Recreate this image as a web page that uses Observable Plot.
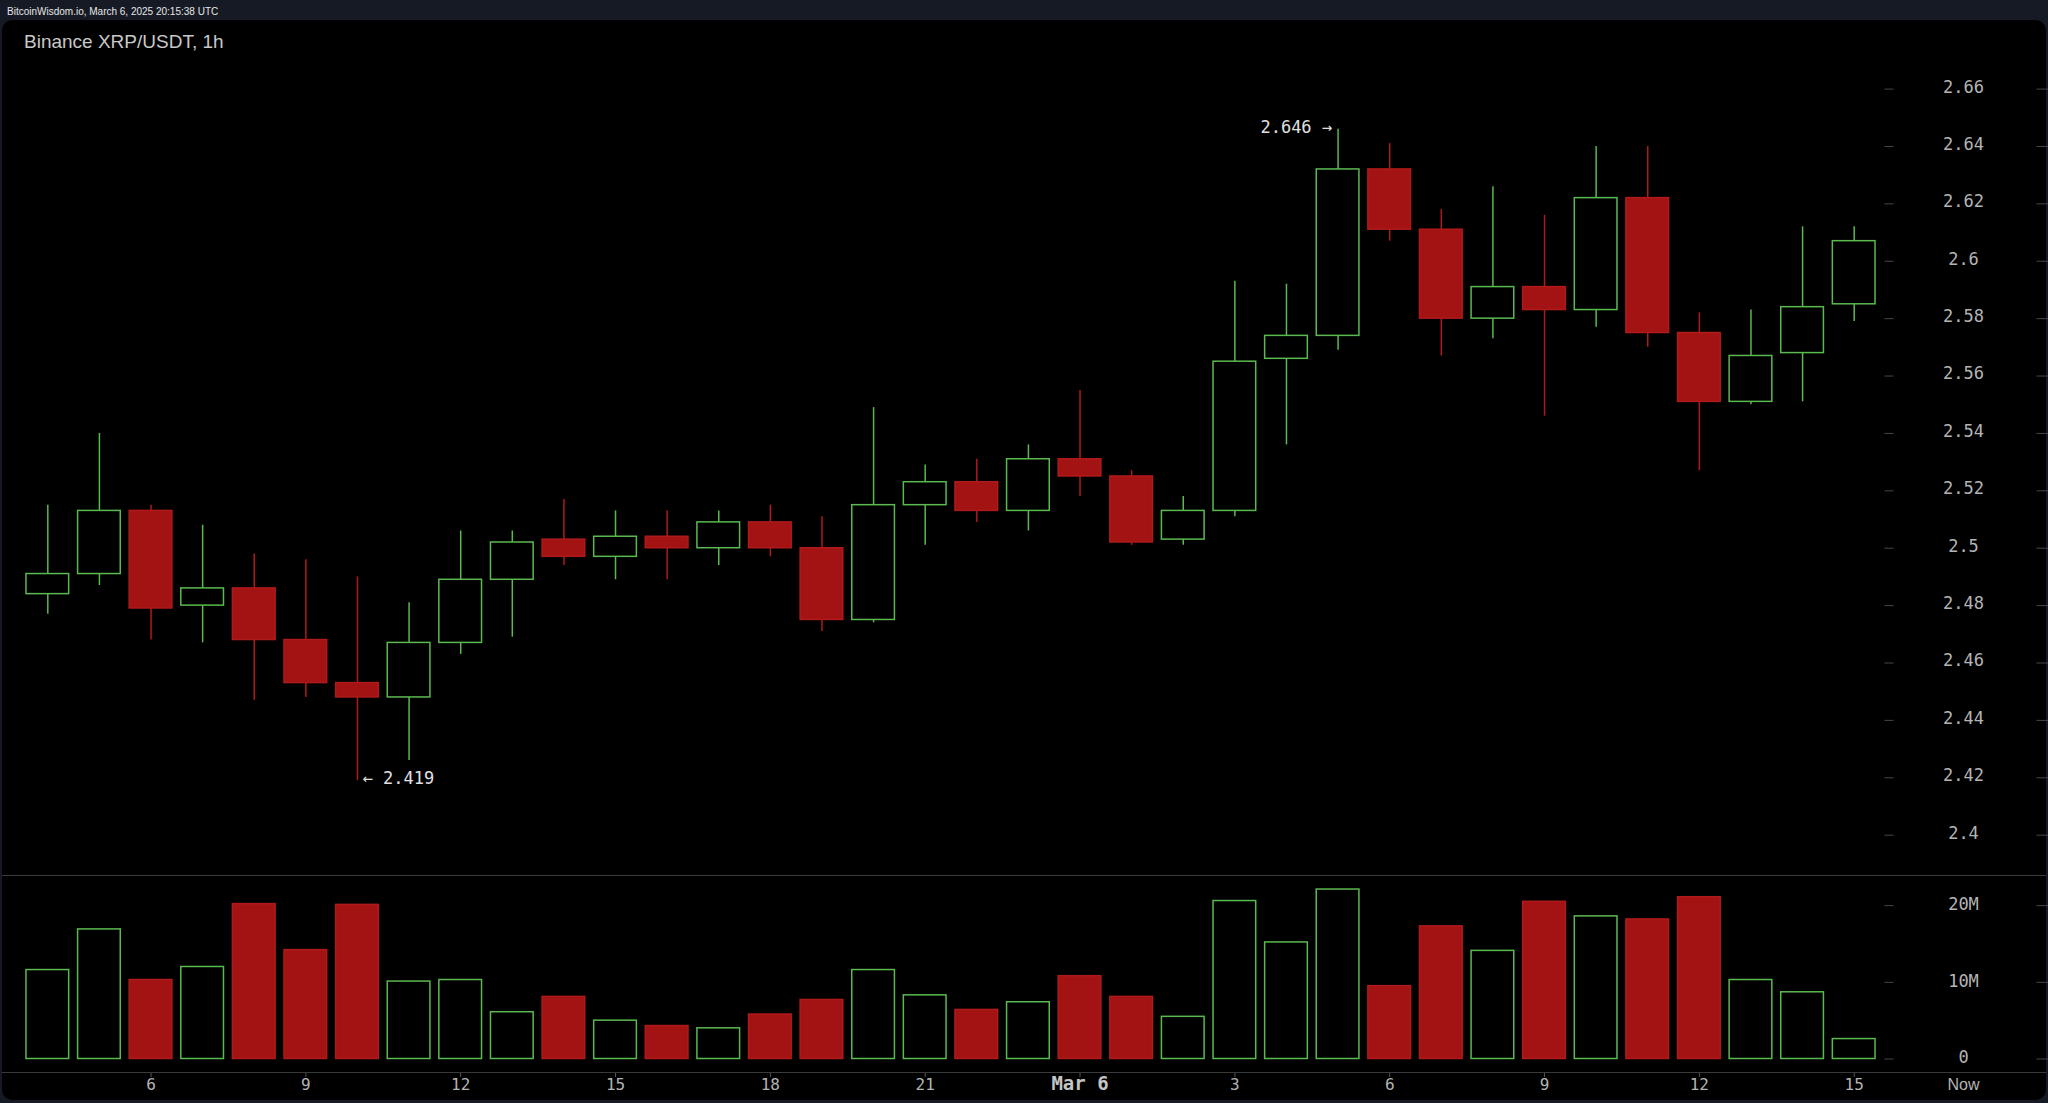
<!DOCTYPE html>
<html>
<head>
<meta charset="utf-8">
<script src="https://cdn.jsdelivr.net/npm/d3@7"></script>
<script src="https://cdn.jsdelivr.net/npm/@observablehq/plot@0.6"></script>
<style>
  html, body { margin: 0; padding: 0; }
  body { width: 2048px; height: 1103px; background: #161a24; position: relative; overflow: hidden; }
  #topbar { position: absolute; left: 7px; top: 5px; font: 10px "Liberation Sans", Arial, sans-serif; color: #e6e6e6; line-height: 13px; }
  #panel { position: absolute; left: 2px; top: 20px; width: 2044px; height: 1080px; background: #000; border-radius: 10px; }
  #title { position: absolute; left: 24px; top: 30.5px; font: 19px "Liberation Sans", Arial, sans-serif; color: #c8c8c8; line-height: 22px; z-index: 3; }
  #price { position: absolute; left: 0; top: 20px; z-index: 2; }
  #vol { position: absolute; left: 0; top: 876px; z-index: 2; }
  .sep { position: absolute; left: 2px; width: 2044px; height: 1px; background: #3a3a3a; z-index: 1; }
  svg { overflow: visible; }
</style>
</head>
<body>
<div id="topbar">BitcoinWisdom.io, March 6, 2025 20:15:38 UTC</div>
<div id="panel"></div>
<div id="title">Binance XRP/USDT, 1h</div>
<div class="sep" style="top:875px"></div>
<div class="sep" style="top:1072px"></div>
<div id="price"></div>
<div id="vol"></div>
<script>
// hour of day of each 1h candle (Mar 5 04:00 → Mar 6 15:00)
const hours = [4,5,6,7,8,9,10,11,12,13,14,15,16,17,18,19,20,21,22,23,0,1,2,3,4,5,6,7,8,9,10,11,12,13,14,15];
const open  = [2.484,2.491,2.513,2.480,2.486,2.468,2.453,2.448,2.467,2.489,2.503,2.497,2.504,2.500,2.509,2.500,2.475,2.515,2.523,2.513,2.531,2.525,2.503,2.513,2.566,2.574,2.632,2.611,2.580,2.591,2.583,2.622,2.575,2.551,2.568,2.585];
const high  = [2.515,2.540,2.515,2.508,2.498,2.496,2.490,2.481,2.506,2.506,2.517,2.513,2.513,2.513,2.515,2.511,2.549,2.529,2.531,2.536,2.555,2.527,2.518,2.593,2.592,2.646,2.641,2.618,2.626,2.616,2.640,2.640,2.582,2.583,2.612,2.612];
const low   = [2.477,2.487,2.468,2.467,2.447,2.448,2.419,2.426,2.463,2.469,2.494,2.489,2.489,2.494,2.497,2.471,2.474,2.501,2.509,2.506,2.518,2.501,2.501,2.511,2.536,2.569,2.607,2.567,2.573,2.546,2.577,2.570,2.527,2.550,2.551,2.579];
const close = [2.491,2.513,2.479,2.486,2.468,2.453,2.448,2.467,2.489,2.502,2.497,2.504,2.500,2.509,2.500,2.475,2.515,2.523,2.513,2.531,2.525,2.502,2.513,2.565,2.574,2.632,2.611,2.580,2.591,2.583,2.622,2.575,2.551,2.567,2.584,2.607];
// volume in millions
const volume = [11.6,16.9,10.3,12.0,20.2,14.2,20.1,10.1,10.3,6.1,8.1,5.0,4.3,4.0,5.8,7.7,11.6,8.3,6.4,7.4,10.8,8.1,5.5,20.6,15.2,22.1,9.5,17.3,14.1,20.5,18.6,18.2,21.1,10.3,8.7,2.6];

const priceTicks = [2.4,2.42,2.44,2.46,2.48,2.5,2.52,2.54,2.56,2.58,2.6,2.62,2.64,2.66];
const volTicks = [0,10,20];
const volTickLabels = ["0","10M","20M"];
const xTickIdx = [2,5,8,11,14,17,20,23,26,29,32,35];
const xTickLabels = ["6","9","12","15","18","21","Mar 6","3","6","9","12","15"];

const GREEN = "#5ab94f", RED = "#a31313", RED_LINE = "#b01a1a";
const MONO = "'DejaVu Sans Mono', monospace";
const AXIS_TXT = "#b4b4b4", DASH = "#474747";

const candles = hours.map((h, i) => ({i, hour: h, open: open[i], high: high[i], low: low[i], close: close[i], volume: volume[i], up: close[i] >= open[i]}));
const xDomain = candles.map(d => d.i);
const xScale = {type: "band", domain: xDomain, paddingInner: 0.173, paddingOuter: 0.0865, round: false, axis: null};
const common = {width: 2048, marginLeft: 21.5, marginRight: 168.5, style: {background: "transparent", overflow: "visible"}};

const iMax = d3.maxIndex(candles, d => d.high);
const iMin = d3.minIndex(candles, d => d.low);

const price = Plot.plot({
  ...common,
  height: 856, marginTop: 0, marginBottom: 0,
  x: xScale,
  y: {domain: [2.3856, 2.6839], axis: null, label: null},
  marks: [
    Plot.ruleX(candles, {x: "i", y1: "low", y2: "high", stroke: d => d.up ? GREEN : RED_LINE, strokeWidth: 1.5}),
    Plot.barY(candles, {x: "i", y1: "open", y2: "close", fill: d => d.up ? "#000" : RED, stroke: d => d.up ? GREEN : RED_LINE, strokeWidth: 1.5}),
    Plot.axisY(priceTicks, {anchor: "right", tickSize: 0, tickPadding: 0, dx: 83.5, dy: -2, textAnchor: "middle", fill: AXIS_TXT, fontSize: 17, fontFamily: MONO, label: null, tickFormat: d => String(+d.toFixed(2))}),
    Plot.axisY(priceTicks, {anchor: "right", tickSize: 9, dx: 4, stroke: DASH, fill: "none", label: null}),
    Plot.axisY(priceTicks, {anchor: "right", tickSize: 12, dx: 156, stroke: DASH, fill: "none", label: null}),
    Plot.text([candles[iMax]], {x: "i", y: "high", text: d => `${d.high.toFixed(3)} →`, textAnchor: "end", dx: -6, dy: -2, fill: "#e0e0e0", fontSize: 17, fontFamily: MONO}),
    Plot.text([candles[iMin]], {x: "i", y: "low", text: d => `← ${d.low.toFixed(3)}`, textAnchor: "start", dx: 5, dy: -2, fill: "#e0e0e0", fontSize: 17, fontFamily: MONO})
  ]
});
document.getElementById("price").append(price);

const xLabels = xTickIdx.map((i, k) => ({i, label: xTickLabels[k]}));
const vol = Plot.plot({
  ...common,
  height: 224, marginTop: 0, marginBottom: 41.5,
  x: xScale,
  y: {domain: [0, 23.8], axis: null, label: null},
  marks: [
    Plot.barY(candles, {x: "i", y: "volume", fill: d => d.up ? "#000" : RED, stroke: d => d.up ? GREEN : RED_LINE, strokeWidth: 1.5}),
    Plot.axisY(volTicks, {anchor: "right", tickSize: 0, tickPadding: 0, dx: 83.5, dy: -1, textAnchor: "middle", fill: AXIS_TXT, fontSize: 17, fontFamily: MONO, label: null, tickFormat: (d, k) => volTickLabels[k]}),
    Plot.axisY(volTicks, {anchor: "right", tickSize: 9, dx: 4, stroke: DASH, fill: "none", label: null}),
    Plot.axisY(volTicks, {anchor: "right", tickSize: 12, dx: 156, stroke: DASH, fill: "none", label: null}),
    Plot.axisX(xTickIdx, {anchor: "bottom", tickSize: 4, dy: 14.5, stroke: "#555", fill: "none", label: null}),
    Plot.text(xLabels.filter(d => d.label.length <= 2), {x: "i", text: "label", frameAnchor: "bottom", dy: 31, fill: AXIS_TXT, fontSize: 16, fontFamily: MONO}),
    Plot.text(xLabels.filter(d => d.label.length > 2), {x: "i", text: "label", frameAnchor: "bottom", dy: 31, fill: "#c4c4c4", fontSize: 19, fontWeight: "bold", fontFamily: MONO}),
    Plot.text(["Now"], {frameAnchor: "bottom-right", dx: 83.5, dy: 31, textAnchor: "middle", fill: AXIS_TXT, fontSize: 16, fontFamily: "'Liberation Sans', Arial, sans-serif"})
  ]
});
document.getElementById("vol").append(vol);
</script>
</body>
</html>
